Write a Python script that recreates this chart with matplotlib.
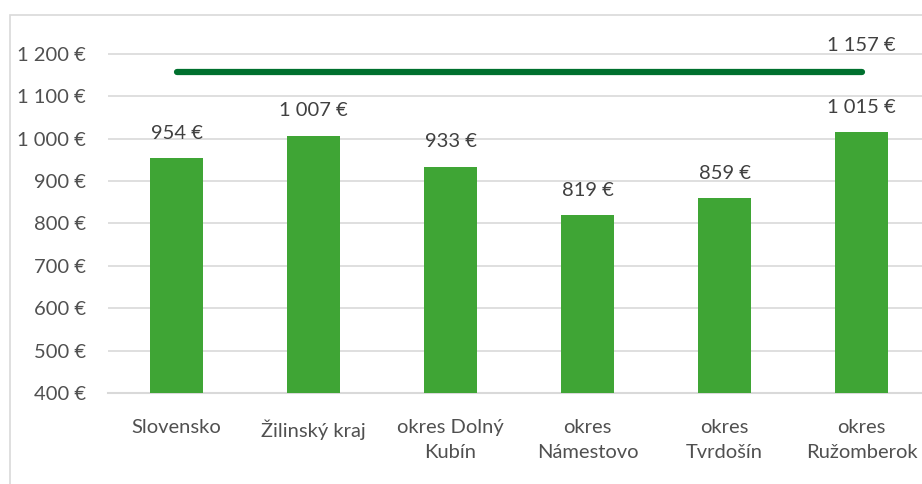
import matplotlib.pyplot as plt
from matplotlib.patches import Rectangle

categories = ["Slovensko", "Žilinský kraj", "okres Dolný\nKubín", "okres\nNámestovo",
              "okres\nTvrdošín", "okres\nRužomberok"]
wages = [954, 1007, 933, 819, 859, 1015]
line_value = 1157
line_values = [line_value] * len(categories)

def eur(v):
    s = f"{v:,}".replace(",", " ")
    return s + " €"

plt.rcParams['font.family'] = ['Lato', 'DejaVu Sans']
text_color = "#505050"

fig = plt.figure(figsize=(9.22, 4.84), dpi=100)
fig.patches.append(Rectangle((10 / 922, -0.1), 1.1, 1.1 - 15 / 484, transform=fig.transFigure,
                             fill=False, edgecolor="#D9D9D9", linewidth=1.2))

ax = fig.add_axes([108 / 922, 1 - 393 / 484, 822 / 922, (393 - 15) / 484])
x = list(range(len(categories)))
ax.bar(x, wages, width=0.39, bottom=0, color="#3FA535", zorder=3)
ax.plot(x, line_values, color="#00702E", linewidth=4.5, solid_capstyle="round", zorder=4)

fs = 14.5
for xi, v in zip(x, wages):
    ax.annotate(eur(v), (xi, v), xytext=(0, 12), textcoords="offset points",
                ha="center", va="bottom", fontsize=fs, color="#404040")
ax.annotate(eur(line_value), (x[-1], line_value), xytext=(0, 13), textcoords="offset points",
            ha="center", va="bottom", fontsize=fs, color="#404040")

ax.set_xlim(-0.5, len(categories) - 0.5)
ax.set_ylim(400, 1292)
ax.set_yticks(range(400, 1201, 100))
ax.set_yticklabels([eur(t) for t in range(400, 1201, 100)])
ax.set_xticks(x)
ax.set_xticklabels(categories, linespacing=1.55)
ax.tick_params(axis="both", length=0, labelsize=fs, colors=text_color)
ax.tick_params(axis="y", pad=16)
ax.tick_params(axis="x", pad=19)
ax.grid(axis="y", color="#D9D9D9", linewidth=1.2, zorder=0)
for s in ["top", "right", "left"]:
    ax.spines[s].set_visible(False)
ax.spines["bottom"].set_color("#D9D9D9")
ax.spines["bottom"].set_linewidth(1.5)
ax.set_axisbelow(True)

fig.savefig("out.png", dpi=100)
